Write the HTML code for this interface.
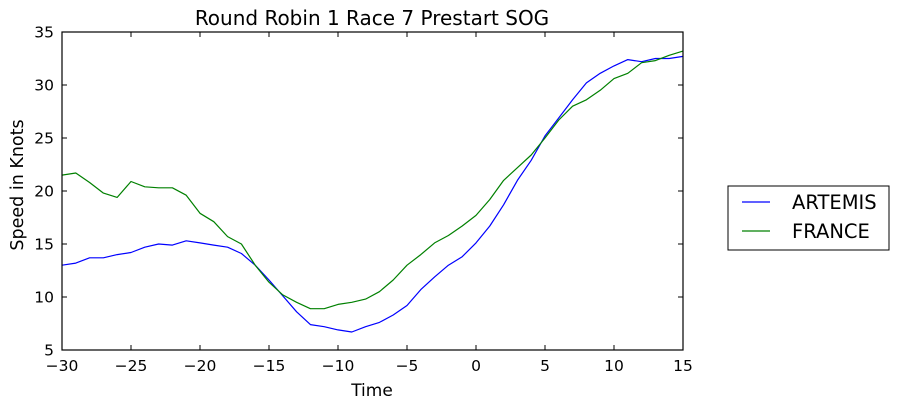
<!DOCTYPE html>
<html><head><meta charset="utf-8"><style>
html,body{margin:0;padding:0;background:#fff;width:898px;height:410px;overflow:hidden}
svg{display:block;font-family:"DejaVu Sans","Liberation Sans",sans-serif}
</style></head><body>
<svg id="chart" width="898" height="410">
<text x="372" y="25" font-size="20" text-anchor="middle">Round Robin 1 Race 7 Prestart SOG</text>
<text x="372" y="396" font-size="17" text-anchor="middle">Time</text>
<text transform="translate(23,185) rotate(-90)" font-size="17.5" text-anchor="middle">Speed in Knots</text>
<g id="ticks"></g>
<g id="series"></g>
<rect x="62" y="32" width="621" height="318" fill="none" stroke="#000" stroke-width="1.2"/>
<g>
<rect x="728" y="186" width="161" height="64" fill="#fff" stroke="#000" stroke-width="1"/>
<line x1="742" y1="202" x2="770" y2="202" stroke="#0000ff" stroke-width="1.2"/>
<text x="792" y="209" font-size="19.5">ARTEMIS</text>
<line x1="742" y1="231" x2="770" y2="231" stroke="#008000" stroke-width="1.2"/>
<text x="792" y="238" font-size="19.5">FRANCE</text>
</g>
</svg>
<script>
const times = [-30,-29,-28,-27,-26,-25,-24,-23,-22,-21,-20,-19,-18,-17,-16,-15,-14,-13,-12,-11,-10,-9,-8,-7,-6,-5,-4,-3,-2,-1,0,1,2,3,4,5,6,7,8,9,10,11,12,13,14,15];
const artemis = [13.0,13.2,13.7,13.7,14.0,14.2,14.7,15.0,14.9,15.3,15.1,14.9,14.7,14.1,13.0,11.6,10.1,8.6,7.4,7.2,6.9,6.7,7.2,7.6,8.3,9.2,10.7,11.9,13.0,13.8,15.1,16.7,18.7,21.0,22.9,25.2,26.9,28.6,30.2,31.1,31.8,32.4,32.2,32.5,32.5,32.7];
const france = [21.5,21.7,20.8,19.8,19.4,20.9,20.4,20.3,20.3,19.6,17.9,17.1,15.7,15.0,13.0,11.4,10.2,9.5,8.9,8.9,9.3,9.5,9.8,10.5,11.6,13.0,14.0,15.1,15.8,16.7,17.7,19.2,21.0,22.2,23.4,25.0,26.7,28.0,28.6,29.5,30.6,31.1,32.1,32.3,32.8,33.2];
const xTicks = [-30,-25,-20,-15,-10,-5,0,5,10,15];
const yTicks = [5,10,15,20,25,30,35];
const NS="http://www.w3.org/2000/svg";
const X0=62,X1=683,Y0=350,Y1=32;
function xs(t){return X0+(t+30)/45*(X1-X0);}
function ys(v){return Y0-(v-5)/30*(Y0-Y1);}
const tg=document.getElementById('ticks');
function mk(tag,attrs,parent){const e=document.createElementNS(NS,tag);for(const k in attrs)e.setAttribute(k,attrs[k]);parent.appendChild(e);return e;}
xTicks.forEach(t=>{
  const x=xs(t);
  const a=mk('line',{x1:x,y1:Y0,x2:x,y2:Y0-5,stroke:'#000'},tg);
  
  
  const b=mk('line',{x1:x,y1:Y1,x2:x,y2:Y1+5,stroke:'#000'},tg);
  
  
  const l=mk('text',{x:x,y:Y0+21,'font-size':15.5,'text-anchor':'middle'},tg);
  l.textContent=(t<0?'\u2212'+(-t):t);
  
  
});
yTicks.forEach(v=>{
  const y=ys(v);
  const a=mk('line',{x1:X0,y1:y,x2:X0+5,y2:y,stroke:'#000'},tg);
  
  
  const b=mk('line',{x1:X1,y1:y,x2:X1-5,y2:y,stroke:'#000'},tg);
  
  
  const l=mk('text',{x:X0-8,y:y+5.5,'font-size':15.5,'text-anchor':'end'},tg);
  l.textContent=v;
  
  
});
const sg=document.getElementById('series');
function line(vals,color,name){
  const d=vals.map((v,i)=>(i?'L':'M')+xs(times[i]).toFixed(1)+','+ys(v).toFixed(1)).join('');
  const p=mk('path',{d:d,fill:'none',stroke:color,'stroke-width':1.2,'stroke-linejoin':'round'},sg);
  
  
}
line(artemis,'#0000ff','artemis-line');
line(france,'#008000','france-line');
</script>
</body></html>
